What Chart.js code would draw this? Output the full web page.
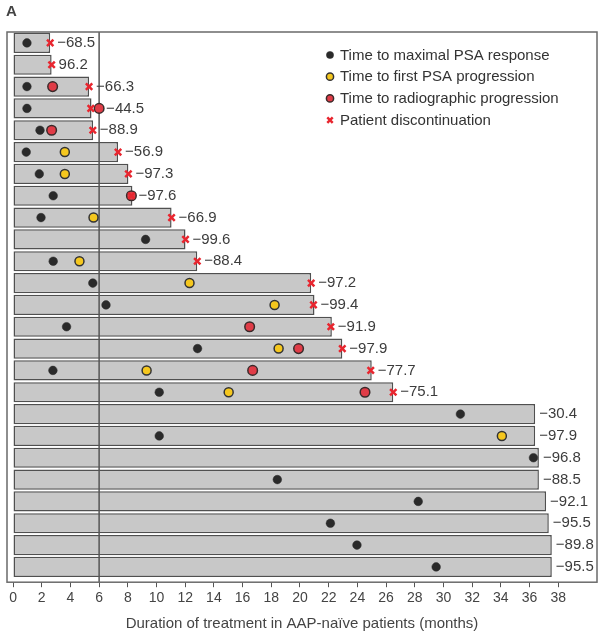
<!DOCTYPE html>
<html>
<head>
<meta charset="utf-8">
<script src="https://cdn.jsdelivr.net/npm/chart.js@4"></script>
<style>
  html, body { margin: 0; padding: 0; background: #fff; }
  #wrap { width: 604px; height: 637px; }
</style>
</head>
<body>
<div id="wrap"><canvas id="swimmer"></canvas></div>
<script>
// one row per AAP-naive patient, top to bottom
const durations = [2.59, 2.69, 5.30, 5.47, 5.58, 7.32, 8.04, 8.32, 11.05, 12.02, 12.84, 20.78, 21.01,
  22.22, 22.95, 25.0, 26.5, 36.39, 36.39, 36.65, 36.65, 37.15, 37.34, 37.55, 37.55];
const maxPsaResponse = [0.97, null, 0.97, 0.97, 1.88, 0.92, 1.83, 2.80, 1.95, 9.24, 2.80, 5.56, 6.48,
  3.73, 12.86, 2.78, 10.19, 31.18, 10.19, 36.27, 18.42, 28.24, 22.12, 23.97, 29.49];
const firstPsaProgression = [null, null, null, null, null, 3.61, 3.61, null, 5.61, null, 4.63, 12.30, 18.23,
  null, 18.51, 9.31, 15.03, null, 34.07, null, null, null, null, null, null];
const radioProgression = [null, null, 2.76, 6.0, 2.69, null, null, 8.25, null, null, null, null, null,
  16.49, 19.90, 16.70, 24.53, null, null, null, null, null, null, null, null];
const discontinuation = [2.59, 2.69, 5.30, 5.42, 5.56, 7.32, 8.04, 8.25, 11.05, 12.02, 12.84, 20.78, 20.94,
  22.15, 22.95, 24.93, 26.50, null, null, null, null, null, null, null, null];
const psaChange = [-68.5, 96.2, -66.3, -44.5, -88.9, -56.9, -97.3, -97.6, -66.9, -99.6, -88.4, -97.2, -99.4,
  -91.9, -97.9, -77.7, -75.1, -30.4, -97.9, -96.8, -88.5, -92.1, -95.5, -89.8, -95.5];
const xTicks = [0, 2, 4, 6, 8, 10, 12, 14, 16, 18, 20, 22, 24, 26, 28, 30, 32, 34, 36, 38];
const refMonth = 6;

const FONT = "'Liberation Sans', Arial, sans-serif";

const toPoints = arr => arr.map((v, i) => (v == null ? null : { x: v, y: i })).filter(p => p);

const fmt = v => (v < 0 ? "\u2212" + Math.abs(v).toFixed(1) : v.toFixed(1));

const framePlugin = {
  id: "frame",
  afterDatasetDraw(chart, args) {
    if (args.index !== 0) return;
    const { ctx, chartArea: a, scales } = chart;
    const x = scales.x.getPixelForValue(refMonth);
    ctx.save();
    ctx.strokeStyle = "#555";
    ctx.lineWidth = 1.5;
    ctx.beginPath();
    ctx.moveTo(x, a.top);
    ctx.lineTo(x, a.bottom);
    ctx.stroke();
    ctx.restore();
  },
  afterDraw(chart) {
    const { ctx, chartArea: a } = chart;
    ctx.save();
    ctx.strokeStyle = "#6a6a6a";
    ctx.lineWidth = 1.5;
    ctx.strokeRect(a.left, a.top, a.right - a.left, a.bottom - a.top);
    ctx.restore();
  }
};

function drawMarker(ctx, ds, x, y, r) {
  ctx.save();
  if (ds.pointStyle === "crossRot") {
    ctx.strokeStyle = ds.borderColor;
    ctx.lineWidth = ds.borderWidth;
    ctx.beginPath();
    ctx.moveTo(x - r * 0.75, y - r * 0.75);
    ctx.lineTo(x + r * 0.75, y + r * 0.75);
    ctx.moveTo(x + r * 0.75, y - r * 0.75);
    ctx.lineTo(x - r * 0.75, y + r * 0.75);
    ctx.stroke();
  } else {
    ctx.fillStyle = ds.backgroundColor;
    ctx.strokeStyle = ds.borderColor;
    ctx.lineWidth = ds.borderWidth;
    ctx.beginPath();
    ctx.arc(x, y, r, 0, Math.PI * 2);
    ctx.fill();
    if (ds.borderWidth) ctx.stroke();
  }
  ctx.restore();
}

const labelPlugin = {
  id: "labels",
  afterDatasetsDraw(chart) {
    const { ctx, scales } = chart;
    ctx.save();
    ctx.font = "15px " + FONT;
    ctx.fillStyle = "#3c3c3c";
    ctx.textBaseline = "middle";
    psaChange.forEach((v, i) => {
      const marks = [maxPsaResponse[i], firstPsaProgression[i], radioProgression[i], discontinuation[i]]
        .filter(m => m != null);
      const endPx = scales.x.getPixelForValue(durations[i]) + 4;
      const markPx = marks.length ? scales.x.getPixelForValue(Math.max(...marks)) + 7 : 0;
      ctx.fillText(fmt(v), Math.max(endPx, markPx), scales.y.getPixelForValue(i));
    });
    ctx.restore();

    // legend inside the frame
    const a = chart.chartArea;
    ctx.save();
    ctx.font = "15px " + FONT;
    ctx.fillStyle = "#333";
    ctx.textBaseline = "middle";
    chart.data.datasets.slice(1).forEach((ds, k) => {
      const y = a.top + 23 + k * 21.7;
      drawMarker(ctx, ds, a.left + 323, y, 3.6);
      ctx.fillText(ds.label, a.left + 333, y + 0.5);
    });
    ctx.restore();
  }
};

new Chart(document.getElementById("swimmer"), {
  type: "scatter",
  data: {
    datasets: [
      {
        type: "bar",
        label: "Duration",
        data: toPoints(durations),
        indexAxis: "y",
        backgroundColor: "#c8c8c8",
        borderColor: "#505050",
        borderWidth: 1.5,
        borderSkipped: false,
        barPercentage: 0.92,
        categoryPercentage: 1,
        order: 10
      },
      {
        type: "scatter",
        label: "Time to maximal PSA response",
        data: toPoints(maxPsaResponse),
        pointStyle: "circle",
        pointRadius: 4.3,
        backgroundColor: "#2a2a2a",
        borderColor: "#2a2a2a",
        borderWidth: 0.5,
        order: 4
      },
      {
        type: "scatter",
        label: "Time to first PSA progression",
        data: toPoints(firstPsaProgression),
        pointStyle: "circle",
        pointRadius: 4.5,
        backgroundColor: "#f5c71e",
        borderColor: "#333",
        borderWidth: 1.5,
        order: 3
      },
      {
        type: "scatter",
        label: "Time to radiographic progression",
        data: toPoints(radioProgression),
        pointStyle: "circle",
        pointRadius: 4.8,
        backgroundColor: "#e03c47",
        borderColor: "#3a2a2a",
        borderWidth: 1.5,
        order: 2
      },
      {
        type: "scatter",
        label: "Patient discontinuation",
        data: toPoints(discontinuation),
        pointStyle: "crossRot",
        pointRadius: 4.5,
        backgroundColor: "#e8262f",
        borderColor: "#e8262f",
        borderWidth: 2.5,
        order: 1
      }
    ]
  },
  options: {
    responsive: true,
    maintainAspectRatio: false,
    animation: false,
    layout: { padding: { left: 6, right: 6, bottom: 4 } },
    plugins: {
      legend: { display: false },
      tooltip: { enabled: false },
      title: {
        display: true,
        text: "A",
        align: "start",
        color: "#444",
        font: { family: FONT, size: 15, weight: "bold" },
        padding: { top: 3, bottom: 11 }
      }
    },
    scales: {
      x: {
        type: "linear",
        min: -0.42,
        max: 40.7,
        offset: false,
        afterBuildTicks: axis => { axis.ticks = xTicks.map(v => ({ value: v })); },
        grid: { display: true, offset: false, drawOnChartArea: false, tickLength: 5, color: "#555" },
        border: { display: false },
        ticks: { color: "#444", padding: 3, font: { family: FONT, size: 14 } },
        title: {
          display: true,
          text: "Duration of treatment in AAP-na\u00efve patients (months)",
          color: "#444",
          font: { family: FONT, size: 15 },
          padding: { top: 5, bottom: 0 }
        }
      },
      y: {
        type: "linear",
        reverse: true,
        min: -0.5,
        max: 24.7,
        offset: false,
        grid: { offset: false },
        display: false
      }
    }
  },
  plugins: [framePlugin, labelPlugin]
});
</script>
</body>
</html>
